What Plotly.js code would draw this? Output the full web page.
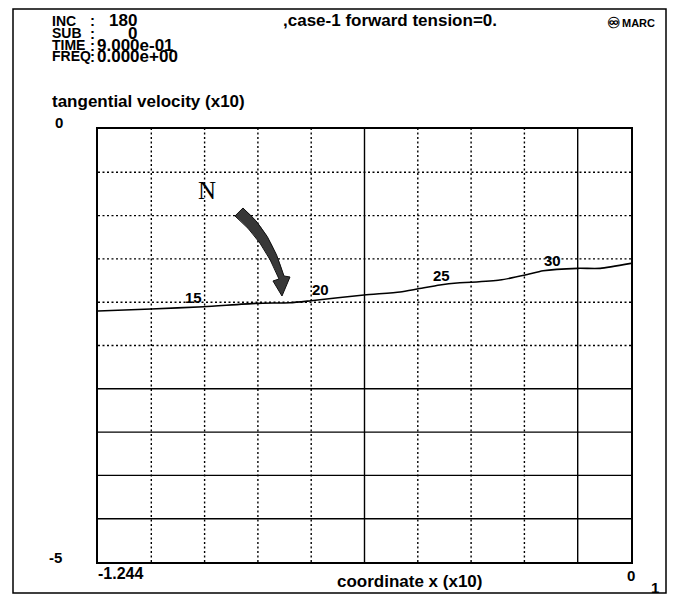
<!DOCTYPE html>
<html>
<head>
<meta charset="utf-8">
<script src="https://cdn.plot.ly/plotly-3.0.1.min.js"></script>
<style>
html,body{margin:0;padding:0;background:#fff;}
#chart{width:675px;height:599px;}
</style>
</head>
<body>
<div id="chart"></div>
<script>
// ---- data (x10 units) ----
var coordX = [-1.244, -1.120, -0.997, -0.873, -0.796, -0.747, -0.623, -0.539, -0.499, -0.446, -0.406, -0.373, -0.306, -0.247, -0.205, -0.124, -0.072, 0.000];
var tangVel = [-2.102, -2.079, -2.052, -2.013, -2.006, -1.983, -1.917, -1.882, -1.848, -1.801, -1.778, -1.770, -1.744, -1.686, -1.636, -1.609, -1.609, -1.551];
var nodeLabels = ["15", "20", "25", "30"];
var nodeLabelX = [-1.020, -0.724, -0.443, -0.184];
var nodeLabelY = [-1.940, -1.859, -1.697, -1.513];
var xMin = -1.244, xMax = 0;
var yMin = -5, yMax = 0;
var xTickText = ["-1.244", "0"];
var yTickText = ["0", "-5"];
var headerLabels = ["INC", "SUB", "TIME", "FREQ"];
var headerValues = ["180", "0", "9.000e-01", "0.000e+00"];
var nDiv = 10;
var solidX = [5, 9];           // grid lines drawn solid (vertical)
var solidY = [6, 7, 8, 9];     // grid lines drawn solid (horizontal, counted from top)

// ---- layout helpers (pixel -> paper) ----
var L = 98, R = 631, T = 129, B = 562;
function px(x){ return (x - L) / (R - L); }
function py(y){ return (B - y) / (B - T); }

var font = 'Liberation Sans, Arial, Helvetica, sans-serif';
var shapes = [];
var annotations = [];

// grid
for (var k = 1; k < nDiv; k++) {
  var gx = xMin + k * (xMax - xMin) / nDiv;
  shapes.push({type:'line', xref:'x', yref:'paper', x0:gx, x1:gx, y0:0, y1:1, layer:'below',
    line:{color:'#000', width:1.4, dash: solidX.indexOf(k) >= 0 ? 'solid' : '2px,2.5px'}});
  var gy = yMax - k * (yMax - yMin) / nDiv;
  shapes.push({type:'line', xref:'paper', yref:'y', x0:0, x1:1, y0:gy, y1:gy, layer:'below',
    line:{color:'#000', width:1.4, dash: solidY.indexOf(k) >= 0 ? 'solid' : '2px,2.5px'}});
}

// outer frame
shapes.push({type:'rect', xref:'paper', yref:'paper', x0:px(13), x1:px(666), y0:py(593), y1:py(9),
  line:{color:'#000', width:1.5}, fillcolor:'rgba(0,0,0,0)'});

// curved arrow pointing at node
function P(x, y){ return px(x).toFixed(4) + ',' + py(y).toFixed(4); }
var arrowPath = 'M ' + P(235,216) + ' L ' + P(243,208) +
  ' Q ' + P(271,231) + ' ' + P(284,276) +
  ' L ' + P(290,277) + ' L ' + P(282,296) + ' L ' + P(273,281) + ' L ' + P(279,279) +
  ' Q ' + P(263,239) + ' ' + P(235,216) + ' Z';
shapes.push({type:'path', xref:'paper', yref:'paper', path:arrowPath,
  fillcolor:'#383838', line:{color:'#111', width:1}});

function txt(text, x, y, size, anchor, opts){
  var a = {text:text, xref:'paper', yref:'paper', x:px(x), y:py(y), showarrow:false,
    xanchor:anchor || 'left', yanchor:'middle', borderpad:0,
    font:{family:font, size:size, color:'#000', weight:'bold'}};
  if (opts) for (var k in opts) a[k] = opts[k];
  annotations.push(a);
}

// header
var rowY = [21, 33, 45, 56];
for (var i = 0; i < headerLabels.length; i++) {
  txt(headerLabels[i], 51, rowY[i], 14, 'left');
  txt(':', 92, rowY[i], 15, 'center');
  if (i < 2) txt(headerValues[i], 138, rowY[i], 17, 'right');
  else txt(headerValues[i], 96, rowY[i], 17, 'left');
}
txt(',case-1 forward tension=0.', 282, 21, 17, 'left');
txt('\u267E', 606, 23, 15, 'left');
txt('MARC', 621, 23, 11, 'left');
txt('tangential velocity (x10)', 51, 101, 17, 'left');

// axis labels
txt(yTickText[0], 59, 123, 15, 'center');
txt(yTickText[1], 55, 557, 15, 'center');
txt(xTickText[0], 97, 573, 16, 'left');
txt(xTickText[1], 631, 575, 15, 'center');
txt('1', 655, 587, 15, 'center');
txt('coordinate x (x10)', 410, 581, 17, 'center');

// N marker
txt('N', 207, 190, 25, 'center', {font:{family:'Liberation Serif, Times New Roman, serif', size:25, color:'#000'}});

// node labels (data coords)
for (var j = 0; j < nodeLabels.length; j++) {
  annotations.push({text:nodeLabels[j], xref:'x', yref:'y', x:nodeLabelX[j], y:nodeLabelY[j],
    showarrow:false, xanchor:'center', yanchor:'middle', borderpad:0,
    font:{family:font, size:15, color:'#000', weight:'bold'}});
}

var trace = {x:coordX, y:tangVel, type:'scatter', mode:'lines',
  line:{color:'#000', width:1.6, shape:'spline', smoothing:0.6}, hoverinfo:'skip'};

var layout = {
  width:675, height:599,
  margin:{l:L, r:675-R, t:T, b:599-B, pad:0},
  paper_bgcolor:'#fff', plot_bgcolor:'#fff',
  showlegend:false,
  xaxis:{range:[xMin, xMax], showgrid:false, zeroline:false, showticklabels:false, ticks:'',
    showline:true, mirror:true, linecolor:'#000', linewidth:1.6, fixedrange:true},
  yaxis:{range:[yMin, yMax], showgrid:false, zeroline:false, showticklabels:false, ticks:'',
    showline:true, mirror:true, linecolor:'#000', linewidth:1.6, fixedrange:true},
  shapes:shapes,
  annotations:annotations
};

Plotly.newPlot('chart', [trace], layout, {displayModeBar:false, staticPlot:true});
</script>
</body>
</html>
